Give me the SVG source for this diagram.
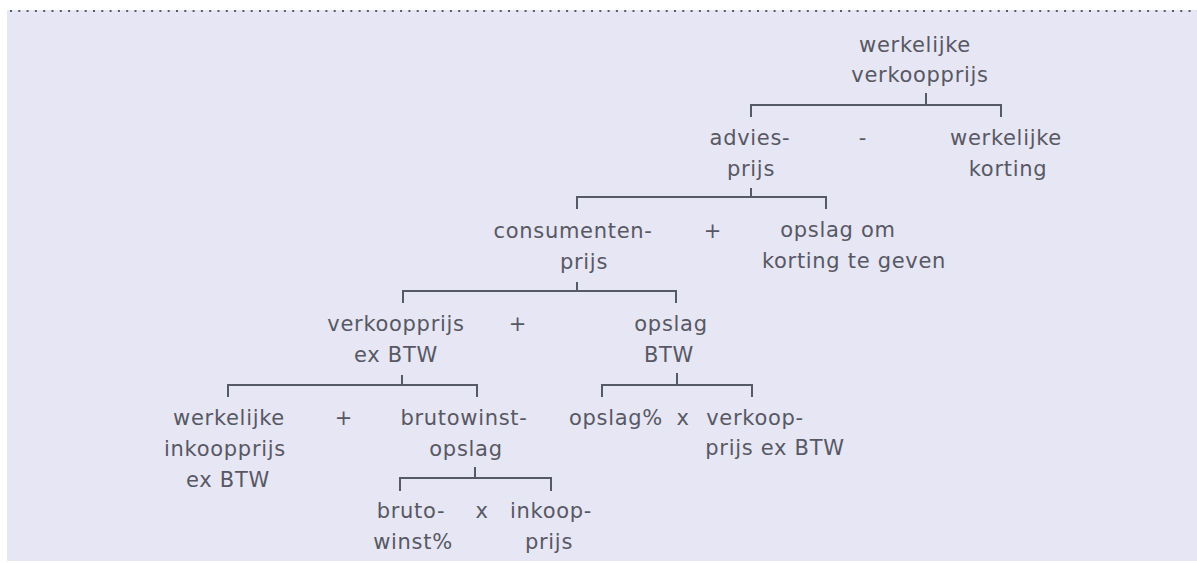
<svg xmlns="http://www.w3.org/2000/svg" width="1197" height="563" viewBox="0 0 1197 563">
<style>
text{font-family:"DejaVu Sans",Verdana,sans-serif;font-size:21px;letter-spacing:0.7px;fill:#585864;text-anchor:middle}
.c{fill:none;stroke:#555a64;stroke-width:2}
</style>
<rect x="0" y="0" width="1197" height="563" fill="#ffffff"/>
<rect x="7" y="10" width="1190" height="551" fill="#e6e6f4"/>
<line x1="10" y1="11" x2="1197" y2="11" stroke="#5a5a64" stroke-width="2" stroke-dasharray="2 6.3"/>
<g id="connectors">
<path class="c" d="M926 93V105M751 117V105H1001V117"/>
<path class="c" d="M751 188V197M577 209V197H826V209"/>
<path class="c" d="M577 282V291M403 303V291H676V303"/>
<path class="c" d="M402 375V385M228 397V385H477V397"/>
<path class="c" d="M677 373V385M602 397V385H752V397"/>
<path class="c" d="M475 467V478M400 491V478H551V491"/>
</g>
<g id="n1"><text x="915" y="52">werkelijke</text><text x="920" y="82">verkoopprijs</text></g>
<g id="n2"><text x="750" y="145">advies-</text><text x="751" y="176">prijs</text></g>
<g id="op1"><text x="863" y="145">-</text></g>
<g id="n3"><text x="1006" y="145">werkelijke</text><text x="1008" y="176">korting</text></g>
<g id="n4"><text x="573" y="238">consumenten-</text><text x="584" y="269">prijs</text></g>
<g id="op2"><text x="713" y="238">+</text></g>
<g id="n5"><text x="838" y="237">opslag om</text><text x="854" y="268">korting te geven</text></g>
<g id="n6"><text x="396" y="331">verkoopprijs</text><text x="396" y="362">ex BTW</text></g>
<g id="op3"><text x="518" y="331">+</text></g>
<g id="n7"><text x="671" y="331">opslag</text><text x="669" y="362">BTW</text></g>
<g id="n8"><text x="229" y="425">werkelijke</text><text x="225" y="456">inkoopprijs</text><text x="228" y="487">ex BTW</text></g>
<g id="op4"><text x="344" y="425">+</text></g>
<g id="n9"><text x="464" y="425">brutowinst-</text><text x="466" y="456">opslag</text></g>
<g id="n10"><text x="616" y="425">opslag%</text></g>
<g id="op5"><text x="683" y="425">x</text></g>
<g id="n11"><text x="755" y="425">verkoop-</text><text x="775" y="455">prijs ex BTW</text></g>
<g id="n12"><text x="411" y="518">bruto-</text><text x="413" y="549">winst%</text></g>
<g id="op6"><text x="482" y="518">x</text></g>
<g id="n13"><text x="551" y="518">inkoop-</text><text x="549" y="549">prijs</text></g>
</svg>
